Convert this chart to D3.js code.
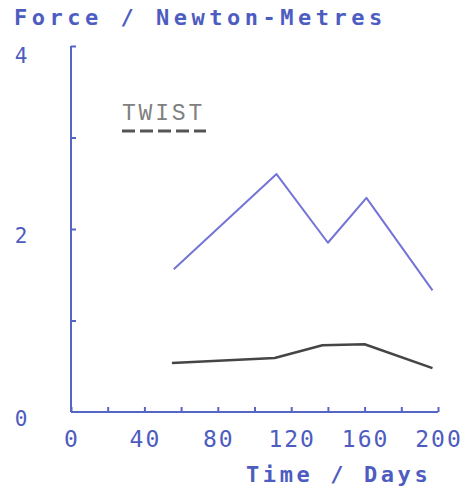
<!DOCTYPE html>
<html><head><meta charset="utf-8">
<script src="https://cdn.jsdelivr.net/npm/d3@7"></script>
<style>body{margin:0;background:#fff}</style>
</head><body>
<svg id="c" width="472" height="493"></svg>
<script>
const blueDays   = [56, 112, 140, 161, 197];
const blueForce  = [1.56, 2.60, 1.85, 2.34, 1.33];
const twistDays  = [55, 111, 137, 160, 197];
const twistForce = [0.535, 0.59, 0.73, 0.74, 0.48];
const xTickLabels = [0, 40, 80, 120, 160, 200];
const yTickLabels = [0, 2, 4];
const legendLabel = "TWIST";

const svg = d3.select("#c");
const x = d3.scaleLinear().domain([0, 200]).range([71, 438]);
const y = d3.scaleLinear().domain([0, 4]).range([412, 46]);
const axisCol = "#5565c6", textCol = "#4d5cc0";

// axes
const xAxis = d3.axisBottom(x).tickValues(d3.range(0, 201, 20)).tickSize(-5).tickFormat("");
svg.append("g").attr("transform", `translate(0,${y(0)})`).call(xAxis)
  .call(g => { g.selectAll("path,line").attr("stroke", axisCol).attr("stroke-width", 2); g.select(".domain").attr("d", `M${x(0)},0H${x(200)}`); });
const yAxis = d3.axisLeft(y).tickValues([1, 2, 3, 4]).tickSize(-5).tickFormat("");
svg.append("g").attr("transform", `translate(${x(0)},0)`).call(yAxis)
  .call(g => { g.selectAll("path,line").attr("stroke", axisCol).attr("stroke-width", 2); g.select(".domain").attr("d", `M0,${y(0)}V${y(4)}`); });

const font = "'DejaVu Sans Mono', monospace";
// tick labels
const xls = 2;
svg.append("g").selectAll("text").data(xTickLabels).join("text")
  .attr("x", d => x(d) + xls / 2).attr("y", 447).attr("text-anchor", "middle")
  .attr("font-family", font).attr("font-size", 23).attr("fill", textCol)
  .attr("letter-spacing", xls).text(d => d);
svg.append("g").selectAll("text").data(yTickLabels).join("text")
  .attr("x", 21).attr("y", d => y(d) + (d === 4 ? 17 : 14)).attr("text-anchor", "middle")
  .attr("font-family", font).attr("font-size", 21).attr("fill", textCol).text(d => d);

// titles
svg.append("text").attr("x", 14).attr("y", 25).attr("font-family", font).attr("font-weight", "bold")
  .attr("font-size", 22).attr("letter-spacing", 4.5).attr("fill", textCol).text("Force / Newton-Metres");
svg.append("text").attr("x", 246).attr("y", 482).attr("font-family", font).attr("font-weight", "bold")
  .attr("font-size", 22).attr("letter-spacing", 3.6).attr("fill", textCol).text("Time / Days");

// lines
const line = d3.line().x(d => x(d[0])).y(d => y(d[1]));
svg.append("path").datum(d3.zip(blueDays, blueForce)).attr("d", line)
  .attr("fill", "none").attr("stroke", "#7474d6").attr("stroke-width", 2).attr("stroke-linejoin", "round");
svg.append("path").datum(d3.zip(twistDays, twistForce)).attr("d", line)
  .attr("fill", "none").attr("stroke", "#454545").attr("stroke-width", 2.5).attr("stroke-linejoin", "round");

// legend
svg.append("text").attr("x", 122).attr("y", 120).attr("font-family", "'Liberation Mono', monospace")
  .attr("font-size", 23).attr("letter-spacing", 2.8).attr("fill", "#808080").text(legendLabel);
svg.append("line").attr("x1", 122).attr("x2", 206).attr("y1", 131).attr("y2", 131)
  .attr("stroke", "#555").attr("stroke-width", 3).attr("stroke-dasharray", "13,5");
</script>
</body></html>
